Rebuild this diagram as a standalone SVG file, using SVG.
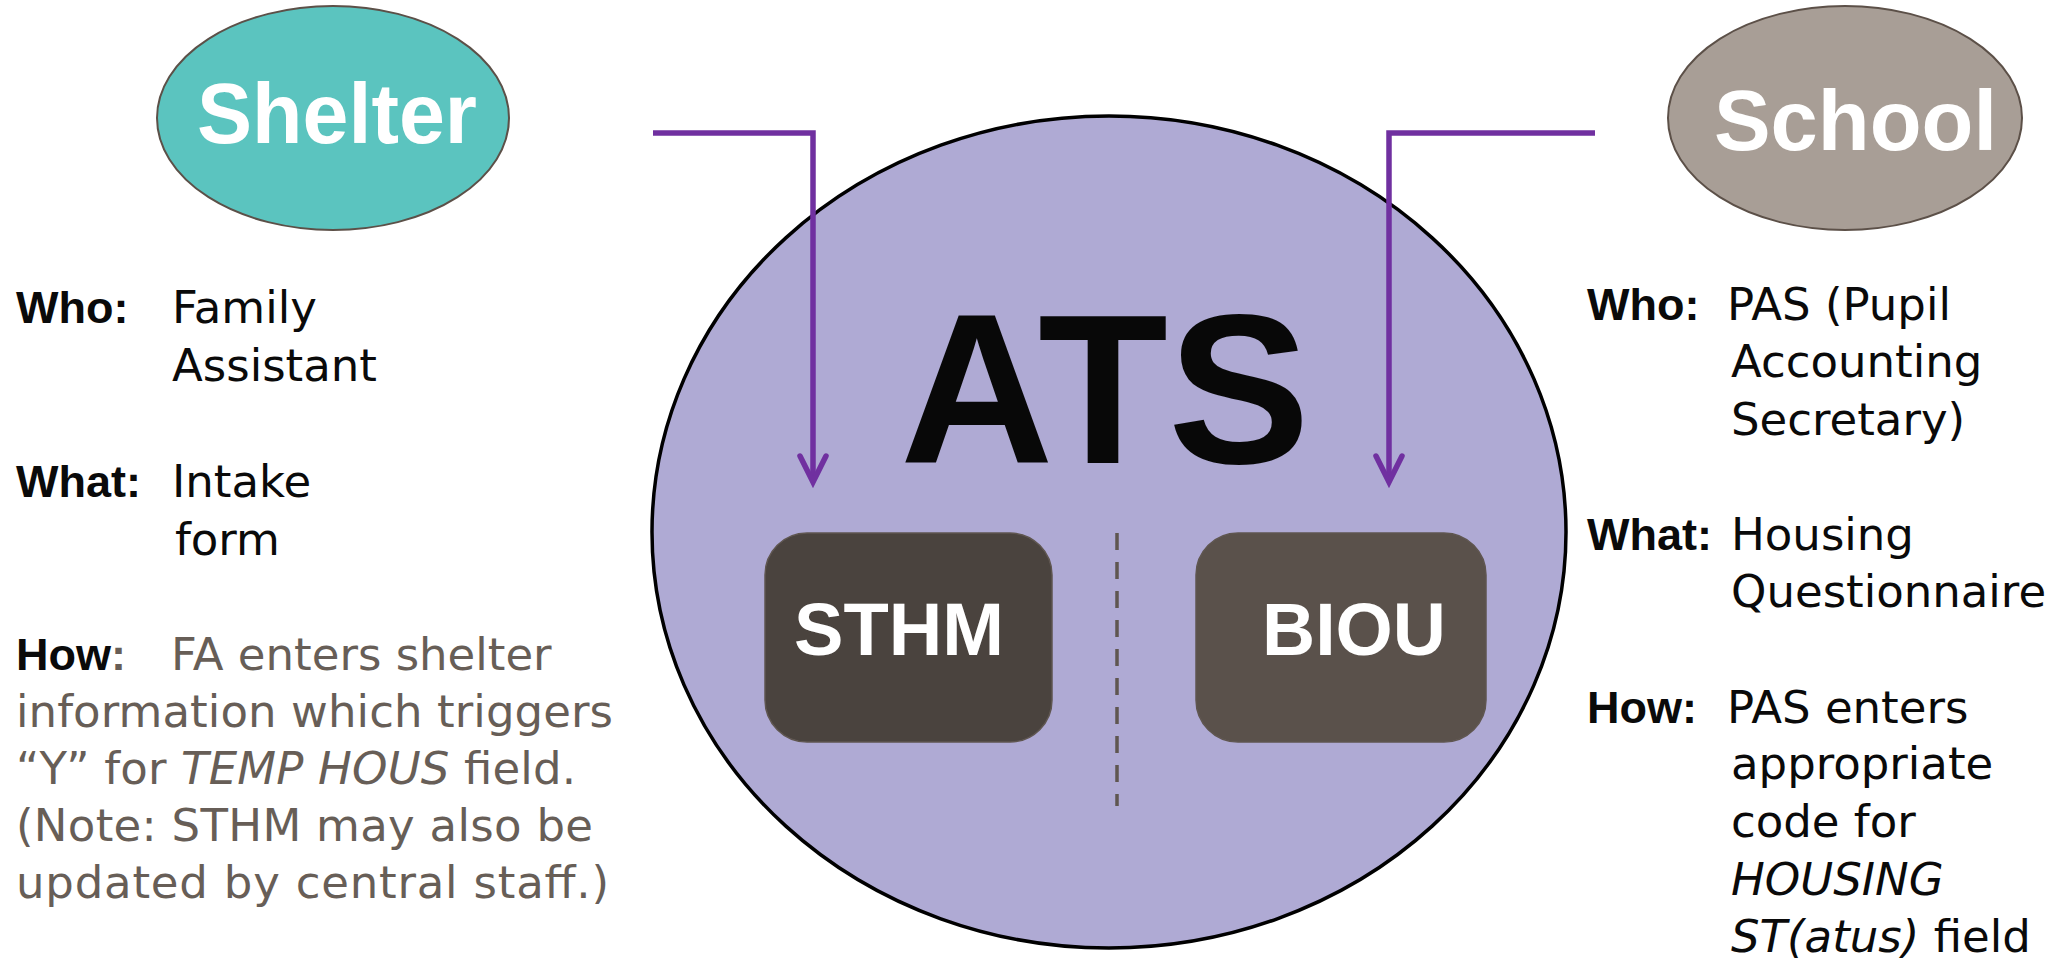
<svg xmlns="http://www.w3.org/2000/svg" width="2067" height="961" viewBox="0 0 2067 961">
<defs>
<style>
.lbl{font-family:"Liberation Sans",Arial,sans-serif;font-weight:bold;font-size:45px;fill:#0a0a0a}
.body{font-family:"DejaVu Sans","Liberation Sans",sans-serif;font-size:45px;fill:#0a0a0a}
.gray{fill:#675e57}
.it{font-style:italic}
.big{font-family:"Liberation Sans",Arial,sans-serif;font-weight:bold;fill:#ffffff}
.conn{fill:none;stroke:#7030a0;stroke-width:5.5}
</style>
<marker id="arr" markerUnits="userSpaceOnUse" viewBox="-40 -20 50 40" markerWidth="50" markerHeight="40" refX="0" refY="0" orient="auto">
<path d="M-26,-13 L0,0 L-26,13" fill="none" stroke="#7030a0" stroke-width="5.5" stroke-linecap="round" stroke-linejoin="miter"/>
</marker>
</defs>
<rect width="2067" height="961" fill="#ffffff"/>

<g id="ats">
<ellipse cx="1109" cy="532" rx="457" ry="416" fill="#afaad4" stroke="#000000" stroke-width="3.5"/>
<text x="900" y="463" font-family="Liberation Sans,Arial,sans-serif" font-weight="bold" font-size="213" fill="#080808" textLength="410" lengthAdjust="spacingAndGlyphs">ATS</text>
</g>

<g id="sthm">
<rect x="765" y="533" width="287" height="209" rx="42" ry="42" fill="#4a433e" stroke="#5f5650" stroke-width="1.5"/>
<text class="big" x="794" y="655" font-size="74" textLength="210" lengthAdjust="spacingAndGlyphs">STHM</text>
</g>

<g id="biou">
<rect x="1196" y="533" width="290" height="209" rx="42" ry="42" fill="#5a514b" stroke="#5f5650" stroke-width="1.5"/>
<text class="big" x="1262" y="655" font-size="74" textLength="184" lengthAdjust="spacingAndGlyphs">BIOU</text>
</g>

<g id="divider">
<line x1="1117" y1="533" x2="1117" y2="806" stroke="#5f5650" stroke-width="3.5" stroke-dasharray="17 12"/>
</g>

<g id="shelter">
<ellipse cx="333" cy="118" rx="176" ry="112" fill="#5bc4bf" stroke="#5c5048" stroke-width="2"/>
<text class="big" x="197" y="143" font-size="86" textLength="280" lengthAdjust="spacingAndGlyphs">Shelter</text>
</g>

<g id="school">
<ellipse cx="1845" cy="118" rx="177" ry="112" fill="#a89e96" stroke="#5c5048" stroke-width="2"/>
<text class="big" x="1714" y="150" font-size="86" textLength="283" lengthAdjust="spacingAndGlyphs">School</text>
</g>

<g id="connectors">
<path class="conn" d="M653,133 H813 V482" marker-end="url(#arr)"/>
<path class="conn" d="M1595,133 H1389 V482" marker-end="url(#arr)"/>
</g>

<g id="shelter-info">
<text class="lbl" x="16" y="323">Who:</text>
<text class="body" x="172" y="323">Family</text>
<text class="body" x="172" y="381">Assistant</text>
<text class="lbl" x="16" y="497">What:</text>
<text class="body" x="172" y="497">Intake</text>
<text class="body" x="175" y="555">form</text>
<text x="16" y="670" class="lbl"><tspan>How</tspan><tspan class="gray">:</tspan></text>
<text class="body gray" x="171" y="670">FA enters shelter</text>
<text class="body gray" x="16" y="727" textLength="597" lengthAdjust="spacing">information which triggers</text>
<text class="body gray" x="16" y="784" textLength="560" lengthAdjust="spacing">“Y” for <tspan class="it">TEMP HOUS</tspan> field.</text>
<text class="body gray" x="16" y="841" textLength="577" lengthAdjust="spacing">(Note: STHM may also be</text>
<text class="body gray" x="16" y="898" textLength="593" lengthAdjust="spacing">updated by central staff.)</text>
</g>

<g id="school-info">
<text class="lbl" x="1587" y="320">Who:</text>
<text class="body" x="1727" y="320">PAS (Pupil</text>
<text class="body" x="1731" y="377">Accounting</text>
<text class="body" x="1731" y="435">Secretary)</text>
<text class="lbl" x="1587" y="550">What:</text>
<text class="body" x="1731" y="550">Housing</text>
<text class="body" x="1731" y="607">Questionnaire</text>
<text class="lbl" x="1587" y="723">How:</text>
<text class="body" x="1727" y="723">PAS enters</text>
<text class="body" x="1731" y="779">appropriate</text>
<text class="body" x="1731" y="837">code for</text>
<text class="body it" x="1731" y="895">HOUSING</text>
<text class="body" x="1731" y="952"><tspan class="it">ST(atus)</tspan> field</text>
</g>
</svg>
